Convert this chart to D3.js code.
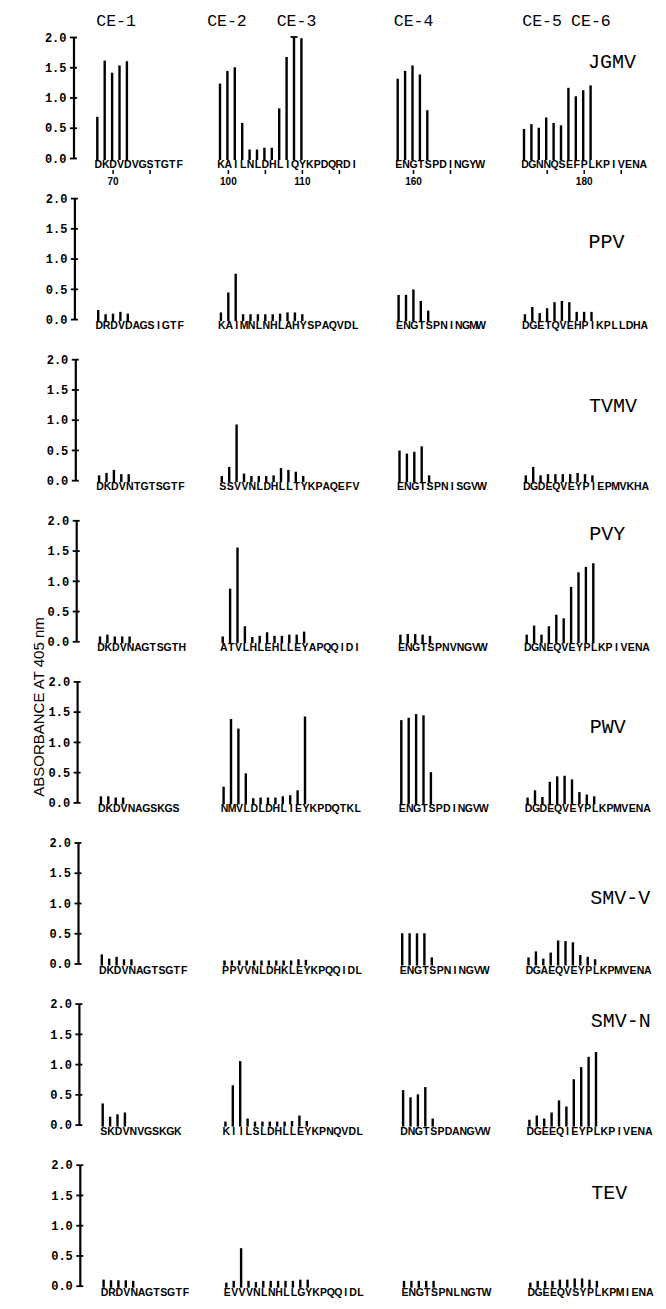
<html>
<head>
<title>Absorbance profiles</title>
<script type="text/javascript" src="https://d3js.org/d3.v7.min.js"></script>
<style>
	body {
		margin: 0;
		background: #fff;
	}
	.seq {
		font-family: "Liberation Sans", Arial, sans-serif;
		font-weight: bold;
		font-size: 10.5px;
	}
	.num {
		font-family: "Liberation Sans", Arial, sans-serif;
		font-weight: bold;
		font-size: 10px;
	}
	.hdr {
		font-family: "Liberation Mono", monospace;
		font-size: 16.5px;
	}
	.virus {
		font-family: "Liberation Mono", monospace;
		font-size: 20px;
	}
	.tick text {
		font-family: "Liberation Mono", monospace;
		font-weight: bold;
		font-size: 12px;
	}
	.ytitle {
		font-family: "Liberation Sans", Arial, sans-serif;
		font-size: 15px;
	}
</style>
</head>
<body>
<svg id="chart" width="666" height="1309"></svg>
<script>

var viruses = ["JGMV", "PPV", "TVMV", "PVY", "PWV", "SMV-V", "SMV-N", "TEV"];
// height (absorbance units) at which each virus name sits
var labelLevel = [1.49, 1.17, 1.12, 1.67, 1.14, 0.98, 1.62, 1.44];

var yTicks = [0, 0.5, 1.0, 1.5, 2.0];

// first residue number of each printed stretch
var groupStart = [68, 99, 158, 172];

var seqCE1 = ["DKDVDVGSTGTF", "DRDVDAGSIGTF", "DKDVNTGTSGTF", "DKDVNAGTSGTH",
	"DKDVNAGSKGS", "DKDVNAGTSGTF", "SKDVNVGSKGK", "DRDVNAGTSGTF"];
var seqCE2 = ["KAILNLDHLIQYKPDQRDI", "KAIMNLNHLAHYSPAQVDL", "SSVVNLDHLLTYKPAQEFV", "ATVLHLEHLLEYAPQQIDI",
	"NMVLDLDHLIEYKPDQTKL", "PPVVNLDHKLEYKPQQIDL", "KIILSLDHLLEYKPNQVDL", "EVVVNLNHLLGYKPQQIDL"];
var seqCE4 = ["ENGTSPDINGYW", "ENGTSPNINGMW", "ENGTSPNISGVW", "ENGTSPNVNGVW",
	"ENGTSPDINGVW", "ENGTSPNINGVW", "DNGTSPDANGVW", "ENGTSPNLNGTW"];
var seqCE56 = ["DGNNQSEFPLKPIVENA", "DGETQVEHPIKPLLDHA", "DGDEQVEYPIEPMVKHA", "DGNEQVEYPLKPIVENA",
	"DGDEQVEYPLKPMVENA", "DGAEQVEYPLKPMVENA", "DGEEQIEYPLKPIVENA", "DGEEQVSYPLKPMIENA"];

var absCE1 = [
	[0.68, 1.61, 1.41, 1.53, 1.60],
	[0.15, 0.08, 0.09, 0.12, 0.09],
	[0.08, 0.12, 0.17, 0.10, 0.10],
	[0.08, 0.11, 0.08, 0.08, 0.08],
	[0.10, 0.10, 0.08, 0.08],
	[0.15, 0.08, 0.11, 0.07, 0.07],
	[0.35, 0.13, 0.17, 0.20],
	[0.10, 0.09, 0.09, 0.09, 0.08]
];
var absCE2 = [
	[1.23, 1.44, 1.50, 0.58, 0.14, 0.14, 0.17, 0.17, 0.82, 1.67, 2.00, 1.98],
	[0.11, 0.44, 0.75, 0.08, 0.08, 0.08, 0.08, 0.08, 0.09, 0.11, 0.11, 0.08],
	[0.07, 0.22, 0.92, 0.11, 0.07, 0.07, 0.07, 0.08, 0.20, 0.17, 0.14, 0.07],
	[0.08, 0.87, 1.55, 0.25, 0.07, 0.09, 0.15, 0.09, 0.09, 0.11, 0.11, 0.16],
	[0.26, 1.38, 1.22, 0.48, 0.07, 0.08, 0.08, 0.08, 0.10, 0.12, 0.20, 1.42],
	[0.05, 0.05, 0.05, 0.05, 0.05, 0.05, 0.05, 0.05, 0.05, 0.05, 0.07, 0.06],
	[0.05, 0.65, 1.05, 0.10, 0.05, 0.05, 0.05, 0.05, 0.05, 0.06, 0.15, 0.06],
	[0.05, 0.08, 0.62, 0.08, 0.06, 0.08, 0.08, 0.08, 0.08, 0.08, 0.10, 0.10]
];
var absCE4 = [
	[1.31, 1.44, 1.53, 1.38, 0.79],
	[0.40, 0.40, 0.49, 0.30, 0.14],
	[0.49, 0.44, 0.47, 0.56, 0.08],
	[0.11, 0.12, 0.12, 0.11, 0.09],
	[1.36, 1.40, 1.46, 1.44, 0.50],
	[0.50, 0.50, 0.50, 0.50, 0.10],
	[0.57, 0.45, 0.50, 0.62, 0.10],
	[0.08, 0.08, 0.08, 0.08, 0.08]
];
var absCE56 = [
	[0.48, 0.56, 0.50, 0.67, 0.58, 0.54, 1.16, 1.02, 1.12, 1.20],
	[0.08, 0.20, 0.10, 0.18, 0.28, 0.30, 0.28, 0.12, 0.12, 0.12],
	[0.08, 0.22, 0.08, 0.10, 0.10, 0.10, 0.10, 0.12, 0.10, 0.08],
	[0.11, 0.26, 0.11, 0.25, 0.44, 0.38, 0.90, 1.14, 1.23, 1.29],
	[0.08, 0.20, 0.09, 0.34, 0.43, 0.44, 0.38, 0.17, 0.13, 0.10],
	[0.10, 0.20, 0.08, 0.18, 0.38, 0.37, 0.35, 0.14, 0.11, 0.07],
	[0.08, 0.15, 0.10, 0.20, 0.40, 0.30, 0.75, 0.95, 1.12, 1.20],
	[0.05, 0.08, 0.08, 0.08, 0.10, 0.10, 0.12, 0.12, 0.10, 0.08]
];

var headers = ["CE-1", "CE-2", "CE-3", "CE-4", "CE-5", "CE-6"];
var headerGroup = [0, 1, 1, 2, 3, 3];
var headerResidue = [68, 97.4, 106.8, 157.6, 171.9, 178.5];

var tickResidues = [70, 75, 100, 105, 110, 115, 160, 165, 175, 180, 185];
var tickLabels = ["70", "", "100", "", "110", "", "160", "", "", "180", ""];
var tickGroup = [0, 0, 1, 1, 1, 1, 2, 2, 3, 3, 3];

var seqs = [seqCE1, seqCE2, seqCE4, seqCE56];
var absorb = [absCE1, absCE2, absCE4, absCE56];

// layout
var firstBase = 158, panelStep = 161.1, panelH = 121;
var axisX = 73.5, skew = 0.9;
var groupX0 = [97.3, 220, 397.7, 524];
var step = 7.4;
var barW = 2.4;

var svg = d3.select("#chart");
svg.append("rect").attr("width", 666).attr("height", 1309).attr("fill", "#fff");

// column headers
svg.selectAll(".hdr").data(headers)
	.enter()
	.append("text")
	.attr("class", "hdr")
	.attr("x", function (d, i) {
		var g = headerGroup[i];
		return groupX0[g] + (headerResidue[i] - groupStart[g]) * step - 1;
	})
	.attr("y", 26)
	.text(function (d) { return d; });

viruses.forEach(function (name, p) {
	var base = firstBase + p * panelStep;
	var dx = p * skew;
	var y = d3.scaleLinear().domain([0, 2]).range([base, base - panelH]);
	var g = svg.append("g");

	// y axis
	var ax = g.append("g")
		.attr("transform", "translate(" + (axisX + dx) + ",0)")
		.call(d3.axisLeft(y).tickValues(yTicks).tickFormat(d3.format(".1f")).tickSizeOuter(0).tickSizeInner(7));
	ax.select(".domain").attr("stroke", "#000").attr("stroke-width", 2.2);
	ax.selectAll(".tick line")
		.attr("x1", 3.5).attr("x2", -3.5)
		.attr("stroke", "#000").attr("stroke-width", 1.8);
	ax.selectAll(".tick text").attr("x", -7).attr("fill", "#000").attr("dy", "0.35em");

	seqs.forEach(function (seqArr, k) {
		var seq = seqArr[p];
		var vals = absorb[k][p];
		var x = d3.scaleLinear()
			.domain([groupStart[k], groupStart[k] + 1])
			.range([groupX0[k] + dx, groupX0[k] + dx + step]);

		g.selectAll(".bar" + k).data(vals)
			.enter()
			.append("rect")
			.attr("x", function (d, i) { return x(groupStart[k] + i) - barW / 2; })
			.attr("y", function (d) { return y(d); })
			.attr("width", barW)
			.attr("height", function (d) { return y(0) - y(d) + 2; })
			.attr("fill", "#000");

		// capped bars (off-scale)
		g.selectAll(".cap" + k).data(vals.filter(function (d) { return d >= 2; }))
			.enter()
			.append("line")
			.attr("x1", function (d) { return x(groupStart[k] + vals.indexOf(d)) - 3.5; })
			.attr("x2", function (d) { return x(groupStart[k] + vals.indexOf(d)) + 3.5; })
			.attr("y1", function (d) { return y(d); })
			.attr("y2", function (d) { return y(d); })
			.attr("stroke", "#000").attr("stroke-width", 1.8);

		g.selectAll(".ch" + k).data(seq.split(""))
			.enter()
			.append("text")
			.attr("class", "seq")
			.attr("x", function (d, i) { return x(groupStart[k] + i) + 1; })
			.attr("y", base + 10)
			.attr("text-anchor", "middle")
			.text(function (d) { return d; });
	});

	g.append("text")
		.attr("class", "virus")
		.attr("x", 588 + dx * 0.5)
		.attr("y", y(labelLevel[p]))
		.text(name);

	if (p === 0) {
		tickResidues.forEach(function (r, i) {
			var k = tickGroup[i];
			var xx = groupX0[k] + (r - groupStart[k]) * step + 1;
			g.append("line")
				.attr("x1", xx).attr("x2", xx)
				.attr("y1", base + 12).attr("y2", base + 16)
				.attr("stroke", "#000").attr("stroke-width", 1.5);
			if (tickLabels[i] !== "") {
				g.append("text")
					.attr("class", "num")
					.attr("x", xx)
					.attr("y", base + 27)
					.attr("text-anchor", "middle")
					.text(tickLabels[i]);
			}
		});
	}
});

svg.append("text")
	.attr("class", "ytitle")
	.attr("transform", "translate(44,707) rotate(-90)")
	.attr("text-anchor", "middle")
	.text("ABSORBANCE AT 405 nm");

</script>
</body>
</html>
